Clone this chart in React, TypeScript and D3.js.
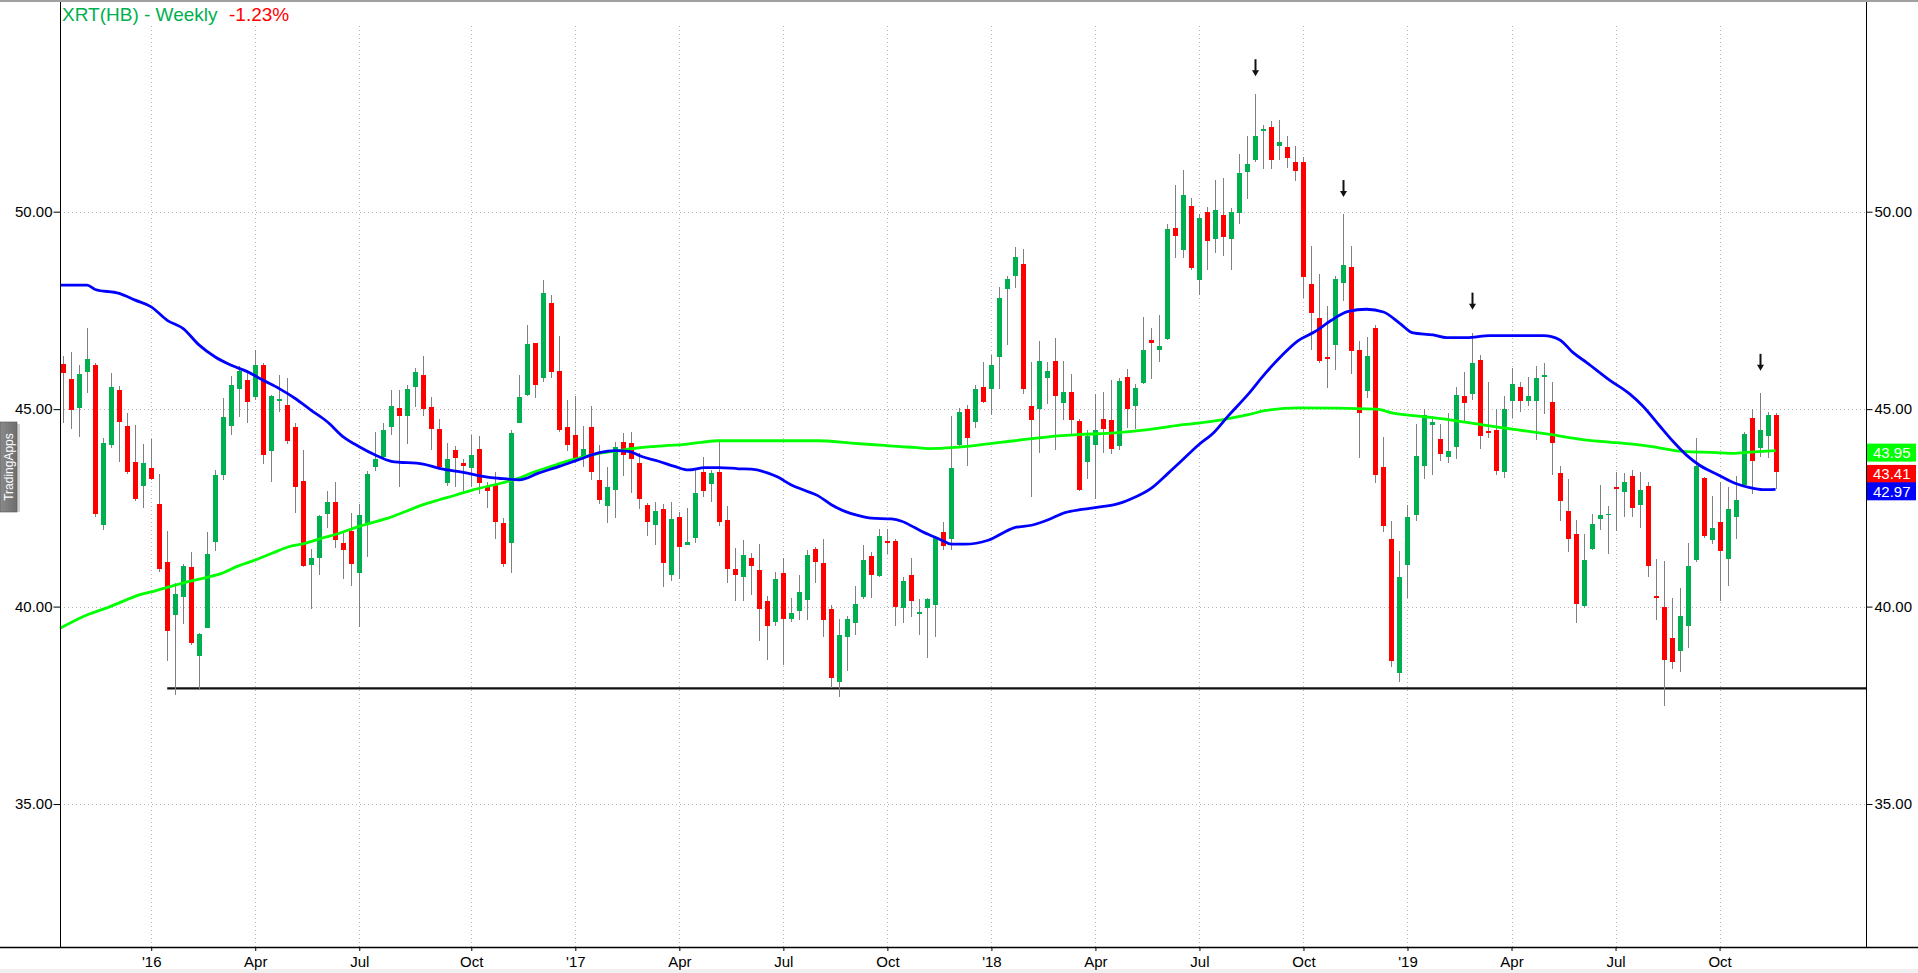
import React, { useEffect, useRef } from "react";
import * as d3 from "d3";

// weekly XRT candles
const opens = [
  46.14, 45.76, 45.03, 45.95, 46.11, 42.07, 44.09, 45.48, 44.57, 43.66,
  43.06, 43.52, 42.59, 41.12, 39.79, 40.25, 41.01, 38.75, 39.46, 41.64,
  43.33, 44.57, 45.51, 45.73, 45.31, 46.11, 43.95, 45.21, 45.1, 44.54,
  43.18, 41.05, 41.22, 42.34, 42.65, 41.6, 41.92, 40.86, 42.11, 43.54,
  43.78, 44.55, 45.03, 44.83, 45.57, 45.86, 45.06, 44.49, 43.14, 43.96,
  43.64, 43.52, 43.99, 43.03, 43.08, 42.11, 41.61, 44.66, 45.35, 46.67,
  45.8, 47.7, 45.97, 44.54, 44.35, 43.76, 44.54, 43.21, 42.54, 42.94,
  44.16, 44.14, 43.63, 42.58, 42.07, 42.48, 40.79, 42.27, 41.57, 41.73,
  43.41, 43.1, 43.41, 42.2, 40.96, 40.75, 41.23, 40.93, 40.13, 39.6,
  40.85, 39.68, 39.88, 40.16, 41.46, 41.1, 39.95, 38.08, 39.23, 39.58,
  40.24, 41.27, 40.78, 41.66, 41.67, 39.96, 40.81, 39.84, 39.96, 40.03,
  41.88, 41.7, 44.08, 45.0, 44.68, 45.56, 45.5, 46.33, 48.03, 48.38,
  48.68, 45.08, 45.0, 45.8, 46.23, 45.16, 45.43, 44.71, 43.66, 44.1,
  44.76, 44.73, 44.06, 45.81, 45.08, 45.66, 46.75, 46.51, 46.78, 49.58,
  49.03, 50.15, 48.26, 50.0, 49.31, 49.91, 49.3, 49.96, 51.0, 51.3,
  52.05, 52.15, 51.67, 51.64, 51.27, 51.25, 48.16, 47.3, 46.33, 46.63,
  48.19, 48.6, 46.5, 45.45, 47.05, 43.53, 41.71, 38.32, 41.05, 42.31,
  43.56, 44.6, 44.25, 43.8, 44.03, 45.33, 45.38, 46.25, 44.44, 44.46,
  43.4, 45.21, 45.56, 45.21, 45.21, 45.84, 45.18, 43.38, 42.43, 41.85,
  40.01, 41.46, 42.23, 42.34, 43.03, 42.9, 43.31, 42.58, 43.06, 40.28,
  39.98, 39.21, 38.87, 39.52, 41.18, 43.26, 41.68, 42.13, 41.21, 42.28,
  43.08, 44.78, 44.01, 44.31, 44.85,
];

const highs = [
  46.34, 46.45, 46.11, 47.05, 46.17, 44.27, 45.92, 45.58, 44.89, 44.59,
  44.11, 44.25, 43.37, 41.92, 40.59, 41.09, 41.39, 39.32, 41.88, 43.47,
  45.29, 45.84, 46.1, 45.99, 46.49, 46.17, 45.35, 45.86, 45.8, 44.65,
  43.96, 41.45, 42.33, 42.92, 43.16, 41.89, 42.38, 42.59, 43.43, 44.43,
  44.65, 45.48, 45.48, 45.61, 46.05, 46.34, 45.31, 44.74, 44.15, 44.06,
  43.75, 44.34, 44.32, 43.16, 43.41, 42.24, 44.48, 45.87, 47.14, 46.68,
  48.27, 47.89, 46.86, 45.24, 45.34, 44.58, 45.07, 44.1, 43.53, 44.16,
  44.39, 44.42, 43.9, 42.62, 42.65, 42.6, 42.65, 42.39, 42.49, 43.45,
  43.78, 43.45, 44.18, 42.55, 41.48, 41.69, 41.35, 41.59, 40.27, 40.87,
  41.23, 40.23, 40.81, 41.44, 41.52, 41.72, 40.05, 39.68, 39.75, 40.51,
  41.55, 41.38, 41.96, 41.96, 41.71, 40.74, 41.23, 40.2, 40.23, 41.78,
  42.13, 44.83, 45.03, 45.1, 45.6, 46.2, 46.36, 48.1, 48.38, 49.1,
  49.05, 46.2, 46.73, 46.2, 46.8, 46.23, 45.88, 44.75, 44.46, 45.38,
  45.43, 45.73, 45.78, 46.01, 45.63, 47.33, 47.06, 47.38, 49.68, 50.67,
  51.05, 50.35, 49.93, 50.12, 50.79, 50.85, 50.09, 51.45, 51.92, 52.97,
  52.19, 52.29, 52.32, 51.92, 51.67, 51.39, 49.13, 48.43, 47.6, 48.38,
  49.93, 49.13, 46.73, 46.83, 47.13, 44.3, 42.18, 41.4, 42.56, 44.63,
  45.0, 44.83, 44.63, 44.9, 45.56, 45.93, 46.93, 46.38, 45.7, 45.0,
  45.33, 46.05, 45.68, 45.81, 46.1, 46.16, 45.7, 43.55, 43.23, 42.2,
  41.85, 42.35, 43.08, 42.55, 43.4, 43.38, 43.46, 43.41, 43.15, 41.2,
  41.16, 40.22, 40.47, 41.61, 44.28, 43.28, 42.81, 43.15, 43.03, 43.31,
  44.43, 45.0, 45.4, 44.93, 44.9,
];

const lows = [
  44.65, 44.49, 44.3, 45.41, 42.26, 41.94, 44.02, 43.66, 43.37, 42.67,
  42.5, 43.2, 40.88, 38.63, 37.76, 39.55, 39.03, 37.9, 39.46, 41.41,
  43.2, 44.34, 44.81, 44.65, 45.23, 43.62, 43.16, 44.93, 44.13, 42.36,
  41.01, 39.95, 40.8, 41.98, 41.49, 40.71, 40.52, 39.49, 41.26, 43.44,
  43.71, 44.34, 43.02, 44.11, 45.06, 44.83, 43.96, 43.52, 43.05, 43.02,
  42.93, 43.03, 42.86, 42.5, 41.71, 41.0, 40.85, 44.65, 45.33, 45.28,
  45.7, 45.78, 44.41, 43.93, 43.63, 43.53, 43.21, 42.6, 42.11, 42.24,
  43.3, 42.87, 42.47, 41.78, 41.55, 40.49, 40.66, 40.7, 41.55, 41.61,
  42.77, 42.66, 42.05, 40.59, 40.13, 40.13, 40.3, 39.14, 38.64, 39.5,
  38.51, 39.62, 39.67, 39.67, 40.59, 39.24, 37.94, 37.71, 38.36, 39.29,
  40.2, 40.22, 40.76, 41.34, 39.5, 39.58, 39.73, 39.27, 38.71, 39.24,
  41.43, 41.43, 44.03, 43.56, 44.53, 45.16, 44.86, 45.5, 46.63, 48.08,
  45.38, 42.78, 43.9, 45.13, 43.96, 44.73, 44.38, 42.93, 43.23, 42.73,
  43.88, 43.86, 43.96, 44.53, 44.5, 45.63, 45.76, 46.2, 46.76, 48.83,
  48.83, 48.53, 47.9, 48.53, 48.96, 48.88, 48.53, 49.7, 50.32, 51.27,
  51.09, 51.07, 51.32, 51.1, 50.77, 47.81, 46.5, 46.16, 45.53, 45.98,
  47.73, 45.88, 43.76, 45.28, 43.13, 41.88, 38.47, 38.09, 40.21, 42.18,
  43.23, 43.33, 43.68, 43.63, 43.75, 44.68, 45.23, 43.98, 44.28, 43.33,
  43.26, 44.78, 44.93, 45.08, 44.23, 44.88, 43.33, 42.16, 41.38, 39.58,
  39.96, 41.43, 41.93, 41.33, 41.91, 42.28, 42.28, 41.98, 40.76, 39.66,
  37.49, 38.41, 38.34, 38.94, 41.13, 41.73, 41.58, 40.13, 40.53, 41.71,
  43.03, 42.86, 43.78, 43.76, 42.98,
];

const closes = [
  45.92, 44.99, 45.89, 46.27, 42.34, 44.15, 45.56, 44.68, 43.41, 42.72,
  43.63, 43.23, 40.96, 39.39, 40.33, 41.03, 39.08, 39.3, 41.33, 43.33,
  44.81, 45.61, 45.97, 45.19, 46.11, 43.84, 45.33, 45.25, 44.2, 43.03,
  41.03, 41.22, 42.29, 42.65, 41.68, 41.43, 41.08, 42.32, 43.37, 43.73,
  44.47, 45.08, 44.83, 45.51, 45.94, 45.0, 44.49, 43.54, 43.73, 43.77,
  43.56, 43.84, 43.12, 42.93, 42.13, 41.08, 44.39, 45.32, 46.65, 45.62,
  47.95, 45.93, 44.48, 44.08, 43.73, 43.99, 43.42, 42.69, 43.03, 44.04,
  43.83, 43.73, 42.72, 42.13, 42.43, 41.1, 42.22, 41.51, 41.63, 42.87,
  42.92, 43.38, 42.13, 40.96, 40.81, 41.3, 41.04, 39.95, 39.52, 40.7,
  39.69, 39.84, 40.36, 41.31, 41.12, 39.65, 38.19, 39.29, 39.68, 40.07,
  41.19, 40.81, 41.78, 41.64, 40.0, 40.64, 40.13, 39.86, 40.18, 41.73,
  41.53, 43.51, 44.93, 44.28, 45.51, 45.18, 46.13, 47.81, 48.3, 48.86,
  45.5, 44.73, 46.23, 45.96, 45.33, 45.43, 44.73, 42.96, 44.31, 44.46,
  44.5, 43.98, 45.71, 45.0, 45.53, 46.5, 46.68, 46.61, 49.56, 49.38,
  50.42, 48.58, 49.83, 49.26, 50.05, 49.36, 49.98, 50.99, 51.2, 51.92,
  52.09, 51.3, 51.77, 51.37, 51.04, 48.35, 47.43, 46.23, 46.28, 48.3,
  48.64, 46.46, 44.9, 46.35, 43.33, 42.03, 38.61, 40.76, 42.26, 43.81,
  44.85, 44.68, 43.86, 43.93, 45.35, 45.16, 46.18, 44.31, 44.42, 43.43,
  45.0, 45.63, 45.21, 45.33, 45.8, 45.86, 44.15, 42.68, 41.71, 40.06,
  41.18, 42.1, 42.31, 42.35, 42.98, 43.16, 42.5, 42.95, 41.03, 40.23,
  38.64, 38.59, 39.76, 41.03, 43.56, 41.8, 42.0, 41.41, 42.46, 42.7,
  44.38, 43.68, 44.48, 44.85, 43.41,
];

// moving averages, sampled along the drawn lines: [bar, value]
const blueAvg: [number, number][] = [
  [-0.4, 48.14], [3, 48.14], [4, 48.03], [7, 47.93], [9, 47.76], [11, 47.59],
  [13, 47.25], [15, 47.04], [17, 46.62], [19, 46.32], [21, 46.11], [23, 45.95],
  [25, 45.73], [27, 45.52], [29, 45.27], [31, 44.97], [33, 44.68], [35, 44.3],
  [37, 44.05], [39, 43.84], [41, 43.68], [45, 43.61], [47, 43.5], [50, 43.4],
  [53, 43.28], [54.4, 43.25], [57, 43.21], [59.4, 43.38], [62, 43.55], [64.4, 43.72],
  [67, 43.9], [69, 43.95], [70.6, 43.93], [72.3, 43.8], [74.4, 43.68], [76.4, 43.55],
  [78.1, 43.46], [80.2, 43.52], [82, 43.52], [84.4, 43.49], [86, 43.48], [88.1, 43.38],
  [89.3, 43.28], [91, 43.08], [92.7, 42.94], [94.3, 42.81], [96, 42.58], [97.7, 42.41],
  [99.3, 42.31], [101, 42.24], [103.5, 42.22], [104.8, 42.16], [106.4, 42.0], [108.1, 41.83],
  [109.8, 41.68], [111, 41.58], [112.7, 41.58], [115.6, 41.68], [118.9, 42.0], [121, 42.06],
  [123.1, 42.2], [125.2, 42.38], [127.3, 42.46], [129.8, 42.53], [131.4, 42.58], [133.5, 42.73],
  [136, 43.0], [138.1, 43.38], [139.7, 43.68], [141.8, 44.08], [143.9, 44.43], [145.6, 44.83],
  [148.1, 45.38], [150.2, 45.9], [152.3, 46.36], [154.3, 46.73], [156.4, 46.96], [158.5, 47.25],
  [160.5, 47.47], [162.9, 47.53], [165, 47.46], [167, 47.18], [168.7, 46.93], [171.2, 46.88],
  [172.9, 46.81], [175.4, 46.81], [178.3, 46.86], [180.8, 46.86], [185, 46.86], [187, 46.76],
  [188.7, 46.43], [190.4, 46.18], [193.3, 45.73], [195.8, 45.38], [197.4, 45.08], [199.5, 44.58],
  [201.2, 44.18], [202.9, 43.83], [204.5, 43.58], [206.6, 43.36], [209.1, 43.11], [210.8, 43.01],
  [212.4, 42.96], [214, 42.97],
];

const greenAvg: [number, number][] = [
  [-0.4, 39.45], [3.1, 39.8], [5.2, 39.95], [7.3, 40.12], [9.4, 40.29], [11.5, 40.4],
  [13.6, 40.52], [15.6, 40.63], [17.7, 40.73], [19.8, 40.84], [21.9, 41.03], [24, 41.18],
  [26.1, 41.35], [28.1, 41.51], [30.2, 41.6], [32.3, 41.73], [34.4, 41.85], [36.5, 42.0],
  [38.5, 42.12], [40.6, 42.24], [42.7, 42.4], [44.8, 42.57], [46.9, 42.7], [49, 42.82],
  [51.1, 42.95], [54.8, 43.13], [56.9, 43.25], [59, 43.42], [61, 43.55], [63.1, 43.69],
  [65.2, 43.8], [67.3, 43.89], [69.4, 43.95], [71.5, 44.01], [73.5, 44.05], [75.6, 44.08],
  [77.7, 44.11], [79.8, 44.16], [81.9, 44.2], [94.3, 44.2], [98.5, 44.14], [102.6, 44.08],
  [104.7, 44.05], [106.4, 44.03], [108.1, 44.0], [111.4, 44.03], [114.8, 44.1], [118.9, 44.2],
  [123.1, 44.3], [127.3, 44.36], [131.4, 44.4], [135.6, 44.48], [139.7, 44.6], [143.1, 44.68],
  [145.6, 44.76], [148.1, 44.86], [150.2, 44.96], [154.3, 45.03], [164.1, 45.0], [166.2, 44.9],
  [169.1, 44.83], [173.3, 44.73], [177.4, 44.6], [181.6, 44.48], [185.8, 44.36], [189.9, 44.23],
  [194.1, 44.15], [198.3, 44.06], [202.4, 43.93], [206.6, 43.9], [208.7, 43.88], [210.8, 43.91],
  [214, 43.95],
];

const tickBars = [11, 24, 37, 51, 64, 77, 90, 103, 116, 129, 142, 155, 168, 181, 194, 207];
const tickLabels = ["'16", "Apr", "Jul", "Oct", "'17", "Apr", "Jul", "Oct", "'18", "Apr", "Jul", "Oct", "'19", "Apr", "Jul", "Oct"];
const priceTicks = [35, 40, 45, 50];

const arrowBars = [149, 160, 176, 212];
const arrowTips = [53.43, 50.37, 47.52, 45.97];

const supportLevel = 37.93;
const supportFrom = 13;

const lastLabels = [
  { value: 43.95, color: "#00ff00" },
  { value: 43.41, color: "#ff0000" },
  { value: 42.97, color: "#0000ff" },
];

const W = 1918;
const H = 973;
const FONT = "'Liberation Sans', Arial, sans-serif";

export default function App() {
  const svgRef = useRef<SVGSVGElement>(null);

  useEffect(() => {
    if (!svgRef.current) return;
    const svg = d3.select(svgRef.current);
    svg.selectAll("*").remove();

    const left = 60;
    const right = 1866;
    const top = 2;
    const bottom = 947;

    const x = d3.scaleLinear().domain([-0.4, 225.3]).range([left, right]);
    const y = d3.scaleLinear().domain([31.38, 55.31]).range([bottom, top]);

    svg.append("rect").attr("width", W).attr("height", H).attr("fill", "#fff");
    svg.append("rect").attr("y", 969).attr("width", W).attr("height", 4).attr("fill", "#f0f0f0");
    svg.append("rect").attr("width", W).attr("height", 2).attr("fill", "#a0a0a0");

    // grid
    const grid = svg.append("g").attr("stroke", "#b4b4b4").attr("stroke-dasharray", "1,3");
    grid.selectAll(".hg")
      .data(priceTicks)
      .join("line")
      .attr("x1", left)
      .attr("x2", right)
      .attr("y1", (d) => Math.round(y(d)) + 0.5)
      .attr("y2", (d) => Math.round(y(d)) + 0.5);
    grid.selectAll(".vg")
      .data(tickBars)
      .join("line")
      .attr("x1", (d) => Math.round(x(d)) + 0.5)
      .attr("x2", (d) => Math.round(x(d)) + 0.5)
      .attr("y1", 26)
      .attr("y2", bottom);

    // support line
    svg.append("line")
      .attr("x1", x(supportFrom))
      .attr("x2", right)
      .attr("y1", y(supportLevel))
      .attr("y2", y(supportLevel))
      .attr("stroke", "#111")
      .attr("stroke-width", 2.2);

    // candles
    const bars = d3.range(opens.length);
    const cg = svg.append("g").attr("shape-rendering", "crispEdges");
    cg.selectAll(".wick")
      .data(bars)
      .join("line")
      .attr("x1", (i) => Math.round(x(i)) + 0.5)
      .attr("x2", (i) => Math.round(x(i)) + 0.5)
      .attr("y1", (i) => y(highs[i]))
      .attr("y2", (i) => y(lows[i]))
      .attr("stroke", "#808080")
      .attr("stroke-width", 1);
    cg.selectAll(".body")
      .data(bars)
      .join("rect")
      .attr("x", (i) => Math.round(x(i)) - 2)
      .attr("width", 5)
      .attr("y", (i) => y(Math.max(opens[i], closes[i])))
      .attr("height", (i) => Math.max(1.5, Math.abs(y(opens[i]) - y(closes[i]))))
      .attr("fill", (i) => (closes[i] >= opens[i] ? "#00b050" : "#ff0000"));

    // averages
    const line = d3
      .line<[number, number]>()
      .x((d) => x(d[0]))
      .y((d) => y(d[1]))
      .curve(d3.curveMonotoneX);
    svg.append("path").attr("d", line(greenAvg)).attr("fill", "none").attr("stroke", "#00ff00").attr("stroke-width", 2.8);
    svg.append("path").attr("d", line(blueAvg)).attr("fill", "none").attr("stroke", "#0000ff").attr("stroke-width", 2.8);

    // arrows
    const ag = svg.append("g").attr("fill", "#111").attr("stroke", "#111");
    arrowBars.forEach((b, k) => {
      const cx = Math.round(x(b)) + 0.5;
      const tip = y(arrowTips[k]);
      ag.append("line").attr("x1", cx).attr("x2", cx).attr("y1", tip - 17).attr("y2", tip - 4).attr("stroke-width", 2);
      ag.append("path")
        .attr("d", `M${cx - 3.5},${tip - 6}L${cx + 3.5},${tip - 6}L${cx},${tip}Z`)
        .attr("stroke", "none");
    });

    // frame
    svg.append("line").attr("x1", left + 0.5).attr("x2", left + 0.5).attr("y1", top).attr("y2", bottom).attr("stroke", "#000");
    svg.append("line").attr("x1", right + 0.5).attr("x2", right + 0.5).attr("y1", top).attr("y2", bottom).attr("stroke", "#000");
    svg.append("line").attr("x1", 0).attr("x2", W).attr("y1", bottom + 0.5).attr("y2", bottom + 0.5).attr("stroke", "#000").attr("stroke-width", 1.5);

    // axes
    const rightAxis = d3.axisRight(y).tickValues(priceTicks).tickSize(6).tickPadding(2).tickFormat(d3.format(".2f"));
    const ra = svg.append("g").attr("transform", `translate(${right + 0.5},0)`).call(rightAxis);
    const leftAxis = d3.axisLeft(y).tickValues(priceTicks).tickSize(7).tickPadding(1).tickFormat(d3.format(".2f"));
    const la = svg.append("g").attr("transform", `translate(${left + 0.5},0)`).call(leftAxis);
    const bottomAxis = d3
      .axisBottom(x)
      .tickValues(tickBars)
      .tickSize(4)
      .tickPadding(5)
      .tickFormat((_d, i) => tickLabels[i]);
    const ba = svg.append("g").attr("transform", `translate(0,${bottom})`).call(bottomAxis);
    [ra, la, ba].forEach((g) => {
      g.select(".domain").remove();
      g.selectAll(".tick line").attr("stroke", "#000");
      g.selectAll("text").attr("fill", "#000").attr("font-family", FONT).attr("font-size", 15);
    });

    // last value tags
    lastLabels.forEach((l) => {
      const cy = y(l.value) + 2;
      svg.append("rect").attr("x", right + 1).attr("y", cy - 9).attr("width", 49).attr("height", 18).attr("fill", l.color);
      svg.append("text")
        .attr("x", right + 7)
        .attr("y", cy + 5.5)
        .attr("fill", "#fff")
        .attr("font-family", FONT)
        .attr("font-size", 15)
        .text(l.value.toFixed(2));
    });

    // title
    const title = svg.append("text").attr("x", 62).attr("y", 21).attr("font-family", FONT).attr("font-size", 19);
    title.append("tspan").attr("fill", "#00b050").text("XRT(HB) - Weekly");
    title.append("tspan").attr("fill", "#ff0000").attr("x", 229).text("-1.23%");

    // side tab
    const defs = svg.append("defs");
    const grad = defs.append("linearGradient").attr("id", "tab-grad").attr("x1", "0%").attr("x2", "100%");
    grad.append("stop").attr("offset", "0%").attr("stop-color", "#8a8a8a");
    grad.append("stop").attr("offset", "100%").attr("stop-color", "#6e6e6e");
    svg.append("rect").attr("x", 17).attr("y", 424).attr("width", 3).attr("height", 88).attr("fill", "#d0d0d0");
    svg.append("rect").attr("x", 0).attr("y", 422).attr("width", 17).attr("height", 90).attr("fill", "url(#tab-grad)").attr("stroke", "#555").attr("stroke-width", 0.6);
    svg.append("text")
      .attr("transform", "translate(12.5,467) rotate(-90)")
      .attr("text-anchor", "middle")
      .attr("fill", "#fff")
      .attr("font-family", FONT)
      .attr("font-size", 12)
      .text("TradingApps");
  }, []);

  return (
    <div style={{ position: "absolute", left: 0, top: 0, width: W, height: H, background: "#fff" }}>
      <svg ref={svgRef} width={W} height={H} viewBox={`0 0 ${W} ${H}`} style={{ display: "block" }} />
    </div>
  );
}
